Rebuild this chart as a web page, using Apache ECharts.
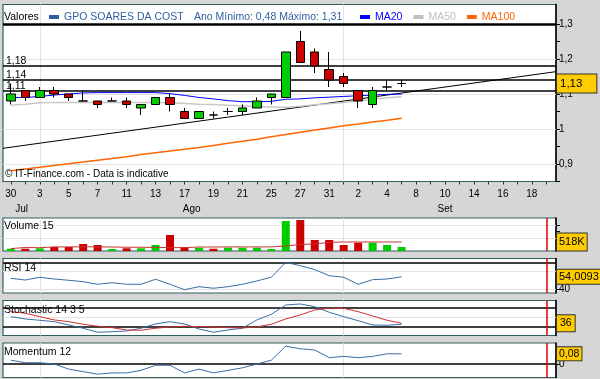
<!DOCTYPE html>
<html><head><meta charset="utf-8">
<script src="https://cdn.jsdelivr.net/npm/echarts@6/dist/echarts.min.js"></script>
<style>html,body{margin:0;padding:0;background:#d6d6d6;}#c{width:600px;height:379px;}</style>
</head><body><div id="c"></div>
<script>
// ---------- data ----------
const dayLabels = ['30','31','3','4','5','6','7','10','11','12','13','14','17','18','19','20','21','24','25','26','27','28','31','1','2','3','4','7','8','9','10','11','14','15','16','17','18','21'];
const xTickIdx = [0,1,2,3,4,5,6,7,8,9,10,11,12,13,14,15,16,17,18,19,20,21,22,23,24,25,26,27,28,29,30,31,32,33,34,35,36,37];
const xLabelIdx = [0,2,4,6,8,10,12,14,16,18,20,22,24,26,28,30,32,34,36];
const monthLabels = ['Jul','Ago','Set'];
const monthLabelAt = [0.75, 12.5, 30.0];
const monthStarts = [2, 23];
const markerIdx = 37;

const openP  = [1.08,1.11,1.09,1.11,1.10,1.08,1.08,1.08,1.08,1.06,1.07,1.09,1.05,1.03,1.04,1.05,1.05,1.06,1.09,1.09,1.25,1.22,1.17,1.15,1.11,1.07,1.12,1.13];
const closeP = [1.10,1.09,1.11,1.10,1.09,1.08,1.07,1.08,1.07,1.07,1.09,1.07,1.03,1.05,1.04,1.05,1.06,1.08,1.10,1.22,1.19,1.18,1.14,1.13,1.08,1.11,1.12,1.13];
const lowP   = [1.07,1.08,1.09,1.09,1.08,1.08,1.06,1.08,1.06,1.04,1.07,1.05,1.03,1.03,1.03,1.04,1.04,1.06,1.07,1.09,1.19,1.16,1.12,1.12,1.06,1.06,1.11,1.12];
const highP  = [1.13,1.11,1.12,1.12,1.10,1.11,1.08,1.09,1.09,1.07,1.09,1.10,1.06,1.05,1.05,1.06,1.07,1.09,1.10,1.22,1.28,1.23,1.22,1.16,1.11,1.12,1.14,1.14];

const ma20  = [1.090,1.090,1.093,1.097,1.100,1.103,1.104,1.104,1.104,1.104,1.104,1.101,1.096,1.090,1.086,1.081,1.078,1.078,1.079,1.085,1.086,1.089,1.091,1.093,1.095,1.097,1.099,1.100];
const ma50  = [1.068,1.071,1.075,1.076,1.076,1.076,1.076,1.076,1.076,1.076,1.076,1.075,1.073,1.071,1.070,1.068,1.066,1.064,1.063,1.062,1.065,1.069,1.072,1.076,1.080,1.085,1.089,1.092];
const ma100 = [0.881,0.886,0.891,0.896,0.901,0.906,0.911,0.916,0.921,0.927,0.932,0.937,0.942,0.947,0.953,0.959,0.965,0.971,0.978,0.984,0.991,0.997,1.003,1.009,1.014,1.020,1.025,1.031];
const trendAnchors = [[0, 0.948], [37, 1.160]];
const levels = [1.18, 1.14, 1.11];
const priceTicks  = [0.85,0.9,0.95,1.0,1.05,1.1,1.15,1.2,1.25,1.3];
const priceLabels = [0.9,1.0,1.1,1.2,1.3];
const priceGrid   = [0.9,1.0,1.1,1.2];
const topRule = 1.303;

const volume  = [132,132,155,230,230,403,345,115,155,155,345,920,213,190,132,190,190,190,115,1725,1783,633,633,345,477,477,345,230];
const volMA15 = [140,200,190,235,235,240,240,230,215,215,205,195,195,230,230,235,235,235,235,290,380,400,500,518,518,518,518,518];
const volTicks = [375,750,1125,1500];
const volGrid  = [750,1500];

const rsi14 = [52.3,50.3,53.5,51.5,50.0,48.4,45.4,47.2,45.4,45.4,51.2,45.4,39.1,42.6,40.8,42.6,45.4,49.2,53.5,70.8,66.9,62.3,55.3,53.5,45.4,50.7,51.5,54.0093];
const stochK = [51.5,44.5,40.5,36.3,26.2,16.2,4.0,5.8,7.9,16.2,29.3,36.3,29.3,14.0,4.0,11.0,16.2,41.5,58.8,87.2,90.2,82.0,64.9,51.5,39.3,26.2,25.3,28.4];
const stochD = [66.8,61.9,51.5,41.5,36.3,28.4,22.3,18.0,11.0,10.0,16.2,20.1,22.3,21.0,20.1,18.0,17.1,20.1,28.4,44.5,56.7,72.0,77.0,77.0,66.8,53.7,40.5,31.4];
const momentum12 = [0.03,0.01,0.01,0.00,-0.04,-0.06,-0.08,-0.07,-0.07,-0.05,-0.01,-0.01,-0.07,-0.04,-0.07,-0.05,-0.03,0.00,0.03,0.14,0.12,0.11,0.05,0.06,0.05,0.06,0.08,0.08];

const lastText = {price:'1,13', volume:'518K', rsi:'54,0093', stoch:'36', mom:'0,08'};

// ---------- styling ----------
const FONT = 'Liberation Sans';
const TEAL = '#2f5f5f';
const GRIDC = '#e2e2e2';
const STEEL = '#2f5f9f';
const LBLUE = '#3a6ea5';
const X_MIN = -0.54, X_MAX = 37.67;
const fmt = v => String(Math.round(v * 100) / 100).replace('.', ',');

const idx = openP.map((_, i) => i);
const pairs = arr => arr.map((v, i) => [idx[i], v]);
const candles = idx.map(i => [i, openP[i], closeP[i], lowP[i], highP[i]]);
const volBars = volume.map((v, i) => {
  let up = closeP[i] > openP[i] ? true : closeP[i] < openP[i] ? false : (i === 0 || closeP[i] >= closeP[i - 1]);
  return { value: [i, v], itemStyle: { color: up ? '#00cc00' : '#cc0000' } };
});
const slope = (trendAnchors[1][1] - trendAnchors[0][1]) / (trendAnchors[1][0] - trendAnchors[0][0]);
const trendAt = x => trendAnchors[0][1] + slope * (x - trendAnchors[0][0]);
const trendData = [[X_MIN, trendAt(X_MIN)], [X_MAX, trendAt(X_MAX)]];

const hl = (v, color, width) => ({ yAxis: v, lineStyle: { color, width, type: 'solid' }, label: { show: false } });
const vl = (v, color, width) => ({ xAxis: v, lineStyle: { color, width, type: 'solid' }, label: { show: false } });
const under = data => ({ silent: true, symbol: ['none', 'none'], animation: false, z: 1, label: { show: false }, data });
const box = (v, text, pad, fs) => ({
  silent: true, symbol: ['none', 'none'], animation: false, z: 20,
  data: [{ yAxis: v, lineStyle: { color: 'rgba(0,0,0,0)', width: 0 },
    label: { show: true, position: 'end', distance: 1, formatter: text, backgroundColor: '#ffcc00',
      borderColor: '#333', borderWidth: 1, padding: pad, color: '#000', fontSize: fs, fontFamily: FONT } }]
});
const monthV = monthStarts.map(m => vl(m, GRIDC, 1));

const xAx = (grid, extra) => Object.assign({ type: 'value', gridIndex: grid, min: X_MIN, max: X_MAX,
  axisLine: { show: false, onZero: false }, axisTick: { show: false }, axisLabel: { show: false }, splitLine: { show: false } }, extra || {});
const yAx = (grid, min, max, ticks, labels) => ({ type: 'value', gridIndex: grid, position: 'right', min, max,
  axisLine: { show: true, onZero: false, lineStyle: { color: '#000', width: 1.5 } },
  axisTick: { show: true, customValues: ticks, length: 4, lineStyle: { color: '#000' } },
  axisLabel: { show: labels.length > 0, customValues: labels, formatter: fmt, margin: 3, fontSize: 10, color: '#000', fontFamily: FONT, padding: [6, 0, 0, 0] },
  splitLine: { show: false } });
const gridBox = (top, height) => ({ left: 3, width: 553, top, height, show: true, backgroundColor: '#fff',
  borderColor: TEAL, borderWidth: 1.2, outerBoundsMode: 'none', containLabel: false });

const option = {
  animation: false,
  backgroundColor: '#d6d6d6',
  textStyle: { fontFamily: FONT },
  grid: [gridBox(4.5, 177), gridBox(218, 33), gridBox(258.5, 34.5), gridBox(300.5, 35), gridBox(343, 34.5)],
  xAxis: [
    xAx(0, { axisLine: { show: true, onZero: false, lineStyle: { color: TEAL, width: 1.2 } },
      axisTick: { show: true, customValues: xTickIdx, length: 3, lineStyle: { color: '#333' } },
      axisLabel: { show: true, customValues: xLabelIdx, formatter: v => dayLabels[Math.round(v)], margin: 8, fontSize: 10, color: '#000', fontFamily: FONT } }),
    xAx(0, { position: 'bottom', offset: 15,
      axisLabel: { show: true, customValues: monthLabelAt, formatter: v => monthLabels[monthLabelAt.indexOf(v)], margin: 8, fontSize: 10, color: '#000', fontFamily: FONT } }),
    xAx(1), xAx(2), xAx(3), xAx(4)
  ],
  yAxis: [
    yAx(0, 0.85, 1.3557, priceTicks, priceLabels),
    yAx(1, 0, 1898, volTicks, []),
    yAx(2, 35.3, 75.2, [40, 50, 60], [40]),
    yAx(3, -5.9, 100.8, [50], []),
    yAx(4, -0.106, 0.165, [0, 0.1], [0])
  ],
  legend: [
    { left: 49, top: 11.5, padding: 0, itemWidth: 10, itemHeight: 4, itemGap: 11, selectedMode: false,
      textStyle: { fontSize: 10.5, fontFamily: FONT },
      data: [{ name: 'GPO SOARES DA COST', icon: 'rect', itemStyle: { color: STEEL, borderWidth: 0 }, textStyle: { color: STEEL } }] },
    { left: 360, top: 11.5, padding: 0, itemWidth: 10, itemHeight: 4, itemGap: 11, selectedMode: false,
      textStyle: { fontSize: 10.5, fontFamily: FONT },
      data: [
        { name: 'MA20', icon: 'rect', itemStyle: { color: '#0000ff', borderWidth: 0 }, textStyle: { color: '#0000ff' } },
        { name: 'MA50', icon: 'rect', itemStyle: { color: '#c0c0c0', borderWidth: 0 }, textStyle: { color: '#c0c0c0' } },
        { name: 'MA100', icon: 'rect', itemStyle: { color: '#ff6600', borderWidth: 0 }, textStyle: { color: '#ff6600' } }
      ] }
  ],
  title: [
    { text: 'Volume 15', left: 4, top: 221, padding: 0, textStyle: { fontSize: 10.5, fontWeight: 'normal', color: '#000', fontFamily: FONT } },
    { text: 'RSI 14', left: 4, top: 262.5, padding: 0, textStyle: { fontSize: 10.5, fontWeight: 'normal', color: '#000', fontFamily: FONT } },
    { text: 'Stochastic 14 3 5', left: 4, top: 305, padding: 0, textStyle: { fontSize: 10.5, fontWeight: 'normal', color: '#000', fontFamily: FONT } },
    { text: 'Momentum 12', left: 4, top: 347, padding: 0, textStyle: { fontSize: 10.5, fontWeight: 'normal', color: '#000', fontFamily: FONT } }
  ],
  graphic: [
    { type: 'text', x: 4, y: 17.5, z: 100, style: { text: 'Valores', font: '10.5px "Liberation Sans"', fill: '#000', verticalAlign: 'middle' } },
    { type: 'text', x: 194, y: 17.5, z: 100, style: { text: 'Ano Mínimo: 0,48 Máximo: 1,31', font: '10.5px "Liberation Sans"', fill: STEEL, verticalAlign: 'middle' } },
    { type: 'text', x: 5, y: 174, z: 100, style: { text: '© IT-Finance.com - Data is indicative', font: '10px "Liberation Sans"', fill: '#000', verticalAlign: 'middle' } }
  ],
  series: [
    { type: 'candlestick', name: 'GPO SOARES DA COST', xAxisIndex: 0, yAxisIndex: 0, z: 4, barWidth: 9, data: candles,
      itemStyle: { color: '#00cc00', color0: '#cc0000', borderColor: '#000', borderColor0: '#000', borderWidth: 1 },
      markLine: box(closeP[closeP.length - 1], lastText.price, [3, 14, 3, 3], 11.5) },
    { type: 'line', name: 'MA20', xAxisIndex: 0, yAxisIndex: 0, data: pairs(ma20), showSymbol: false, symbol: 'none', z: 3,
      itemStyle: { color: '#0000ff' }, lineStyle: { color: '#0000ff', width: 1 } },
    { type: 'line', name: 'MA50', xAxisIndex: 0, yAxisIndex: 0, data: pairs(ma50), showSymbol: false, symbol: 'none', z: 3,
      itemStyle: { color: '#c0c0c0' }, lineStyle: { color: '#c8c8c8', width: 1.5 } },
    { type: 'line', name: 'MA100', xAxisIndex: 0, yAxisIndex: 0, data: pairs(ma100), showSymbol: false, symbol: 'none', z: 3,
      itemStyle: { color: '#ff6600' }, lineStyle: { color: '#ff6600', width: 1.5 } },
    { type: 'line', name: 'trend', xAxisIndex: 0, yAxisIndex: 0, data: trendData, showSymbol: false, symbol: 'none', z: 2,
      lineStyle: { color: '#000', width: 1 },
      markLine: under([].concat(priceGrid.map(v => hl(v, GRIDC, 1)), monthV,
        levels.map(v => ({ yAxis: v, lineStyle: { color: '#000', width: 1.5, type: 'solid' },
          label: { show: true, position: 'insideStartTop', distance: [3, -1], formatter: fmt(v), color: '#000', fontSize: 10.5, fontFamily: FONT } })),
        [hl(topRule, '#000', 2.5)])) },

    { type: 'bar', name: 'vol', xAxisIndex: 2, yAxisIndex: 1, data: volBars, barWidth: 8, z: 3,
      markLine: under([].concat(volGrid.map(v => hl(v, GRIDC, 1)), monthV, [vl(markerIdx, '#dd0000', 1.5)])) },
    { type: 'line', name: 'volma', xAxisIndex: 2, yAxisIndex: 1, data: pairs(volMA15), showSymbol: false, symbol: 'none', z: 4,
      lineStyle: { color: '#c83232', width: 1 }, markLine: box(volMA15[volMA15.length - 1], lastText.volume, [3, 2, 3, 2], 11) },

    { type: 'line', name: 'rsi', xAxisIndex: 3, yAxisIndex: 2, data: pairs(rsi14), showSymbol: false, symbol: 'none', z: 3,
      lineStyle: { color: LBLUE, width: 1 },
      markLine: under([].concat([40, 60].map(v => hl(v, GRIDC, 1)), monthV, [hl(70, '#000', 1.5), vl(markerIdx, '#dd0000', 1.5)])) },
    { type: 'line', name: 'rsiBox', xAxisIndex: 3, yAxisIndex: 2, data: [], z: 5, markLine: box(rsi14[rsi14.length - 1], lastText.rsi, [2, 10, 1, 2], 11) },

    { type: 'line', name: 'stochK', xAxisIndex: 4, yAxisIndex: 3, data: pairs(stochK), showSymbol: false, symbol: 'none', z: 3,
      lineStyle: { color: LBLUE, width: 1 },
      markLine: under([].concat([hl(50, GRIDC, 1)], monthV, [hl(80, '#000', 1.5), hl(20, '#000', 1.5), vl(markerIdx, '#dd0000', 1.5)])) },
    { type: 'line', name: 'stochD', xAxisIndex: 4, yAxisIndex: 3, data: pairs(stochD), showSymbol: false, symbol: 'none', z: 4,
      lineStyle: { color: '#d03030', width: 1 }, markLine: box(stochD[stochD.length - 1], lastText.stoch, [3, 3, 2, 3], 10.5) },

    { type: 'line', name: 'mom', xAxisIndex: 5, yAxisIndex: 4, data: pairs(momentum12), showSymbol: false, symbol: 'none', z: 3,
      lineStyle: { color: LBLUE, width: 1 },
      markLine: under([].concat(monthV, [hl(0, '#000', 1.5), vl(markerIdx, '#dd0000', 1.5)])) },
    { type: 'line', name: 'momBox', xAxisIndex: 5, yAxisIndex: 4, data: [], z: 5, markLine: box(momentum12[momentum12.length - 1], lastText.mom, [1, 2, 1, 2], 10.5) }
  ]
};
const chart = echarts.init(document.getElementById('c'), null, { width: 600, height: 379 });
chart.setOption(option);
</script></body></html>
